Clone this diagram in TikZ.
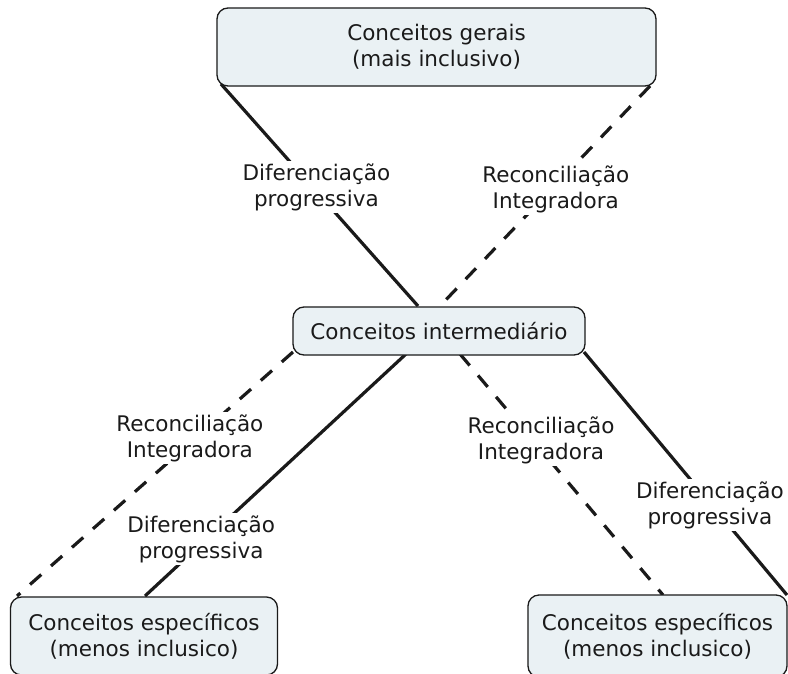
\documentclass[tikz,border=0pt]{standalone}
\usepackage{fontspec}
\setmainfont{DejaVu Sans}
\definecolor{boxfill}{HTML}{EAF1F4}
\definecolor{ink}{HTML}{1A1A1A}
\begin{document}
\begin{tikzpicture}[x=1pt,y=-1pt,
  every node/.style={font=\fontsize{21.5}{26}\selectfont, text=ink},
  box/.style={draw=ink, line width=1.3pt, rounded corners=11pt, fill=boxfill, align=center, inner sep=0pt},
  lab/.style={fill=white, align=center, inner sep=2.5pt},
  solidlink/.style={line width=3.2pt, draw=ink},
  dashlink/.style={line width=3.2pt, draw=ink, dash pattern=on 15pt off 13pt}]
\clip (0,0) rectangle (788,673);
\fill[white] (0,0) rectangle (788,673);
% connector end points
\coordinate (t1) at (221,84);
\coordinate (t2) at (650,86);
\coordinate (m1) at (418,306);
\coordinate (m2) at (440,306);
\coordinate (m3) at (293,352);
\coordinate (m4) at (406,354);
\coordinate (m5) at (460,354);
\coordinate (m6) at (584,352);
\coordinate (b1) at (17,596);
\coordinate (b2) at (145,596);
\coordinate (b3) at (663,595);
\coordinate (b4) at (787,595);
% connectors with labels
\draw[solidlink] (t1) -- node[lab, pos=0.464, xshift=4pt] (l1) {Diferenciação\\progressiva} (m1);
\draw[dashlink] (t2) -- node[lab, pos=0.468, xshift=4pt] (l2) {Reconciliação\\Integradora} (m2);
\draw[dashlink] (m3) -- node[lab, pos=0.352, xshift=-6pt] (l3) {Reconciliação\\Integradora} (b1);
\draw[solidlink] (m4) -- node[lab, pos=0.764, xshift=-5.5pt] (l4) {Diferenciação\\progressiva} (b2);
\draw[dashlink] (m5) -- node[lab, pos=0.357, xshift=8.5pt] (l5) {Reconciliação\\Integradora} (b3);
\draw[solidlink] (m6) -- node[lab, pos=0.630, xshift=-2pt] (l6) {Diferenciação\\progressiva} (b4);
% boxes
\node[box, minimum width=439pt, minimum height=78pt] (top) at (436.5,47) {Conceitos gerais\\(mais inclusivo)};
\node[box, minimum width=292pt, minimum height=48pt] (mid) at (439,331) {Conceitos intermediário};
\node[box, minimum width=267pt, minimum height=78pt] (bl) at (144,636) {Conceitos específicos\\(menos inclusico)};
\node[box, minimum width=259pt, minimum height=82pt] (br) at (657.5,636) {Conceitos específicos\\(menos inclusico)};
\end{tikzpicture}
\end{document}
